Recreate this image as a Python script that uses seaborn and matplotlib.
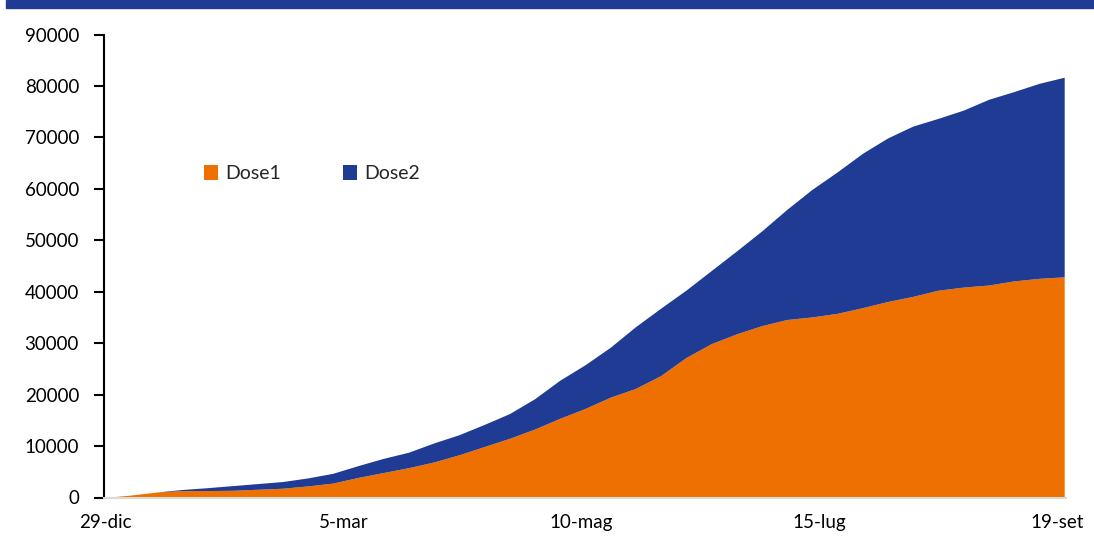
import pandas as pd
import numpy as np
import matplotlib
matplotlib.use('Agg')
import matplotlib.pyplot as plt
import seaborn as sns

# Dati cumulativi (campionamento settimanale dal 29-dic)
dates = pd.date_range('2020-12-29', '2021-09-21', freq='7D')
dose1 = [30, 480, 1050, 1330, 1350, 1400, 1600, 1800, 2250, 2800,
         3900, 4850, 5800, 6900, 8300, 9900, 11500, 13300, 15400, 17300,
         19500, 21200, 23700, 27200, 29900, 31800, 33400, 34600, 35100, 35800,
         36900, 38100, 39100, 40300, 40900, 41300, 42100, 42600, 42900]
dose2 = [0, 0, 0, 220, 550, 900, 1100, 1300, 1550, 1900,
         2300, 2750, 3000, 3700, 3900, 4300, 4800, 5900, 7400, 8500,
         9700, 12000, 13100, 13100, 14200, 16100, 18400, 21400, 24800, 27500,
         30000, 31800, 33100, 33400, 34400, 36100, 36800, 37900, 38800]
tick_dates = ['2020-12-29', '2021-03-05', '2021-05-10', '2021-07-15', '2021-09-19']
tick_labels = ['29-dic', '5-mar', '10-mag', '15-lug', '19-set']
yticks = list(range(0, 90001, 10000))

orange = '#ED7000'
blue = '#1F3B93'

sns.set_theme(style='white')
plt.rcParams['font.family'] = ['Lato', 'DejaVu Sans']

df = pd.DataFrame({'data': dates, 'Dose1': dose1, 'Dose2': dose2})

fig = plt.figure(figsize=(10.94, 5.39), dpi=100)
ax = fig.add_axes([104 / 1094, 1 - 497.5 / 539, 962 / 1094, 463 / 539])

ax.stackplot(df['data'], df['Dose1'], df['Dose2'],
             labels=['Dose1', 'Dose2'], colors=[orange, blue], linewidth=0)

ax.set_ylim(0, 90000)
ax.set_yticks(yticks)
ax.set_yticklabels([str(v) for v in yticks])
ax.set_xlim(pd.Timestamp('2020-12-28 12:00'), pd.Timestamp('2021-09-21 12:00'))
ax.set_xticks(pd.to_datetime(tick_dates))
ax.set_xticklabels(tick_labels)

sns.despine(ax=ax, top=True, right=True)
ax.spines['left'].set_color('black')
ax.spines['left'].set_linewidth(1.5)
ax.spines['bottom'].set_color('#D9D9D9')
ax.spines['bottom'].set_linewidth(1.5)
ax.tick_params(axis='y', direction='out', length=7, width=1.5, color='black',
               pad=11, labelsize=13.5, labelcolor='black', left=True)
ax.tick_params(axis='x', length=0, pad=12, labelsize=13.5, labelcolor='black')

leg = ax.legend(loc='center', bbox_to_anchor=(0.216, 0.699), ncol=2, frameon=False,
                fontsize=14, handlelength=0.75, handleheight=0.75,
                handletextpad=0.35, columnspacing=3.2)

# fascia blu in alto
fig.patches.append(plt.Rectangle((6 / 1094, 1 - 8 / 539), 1, 8 / 539,
                                 transform=fig.transFigure, color=blue, zorder=0))

fig.savefig('out.png', dpi=100)
